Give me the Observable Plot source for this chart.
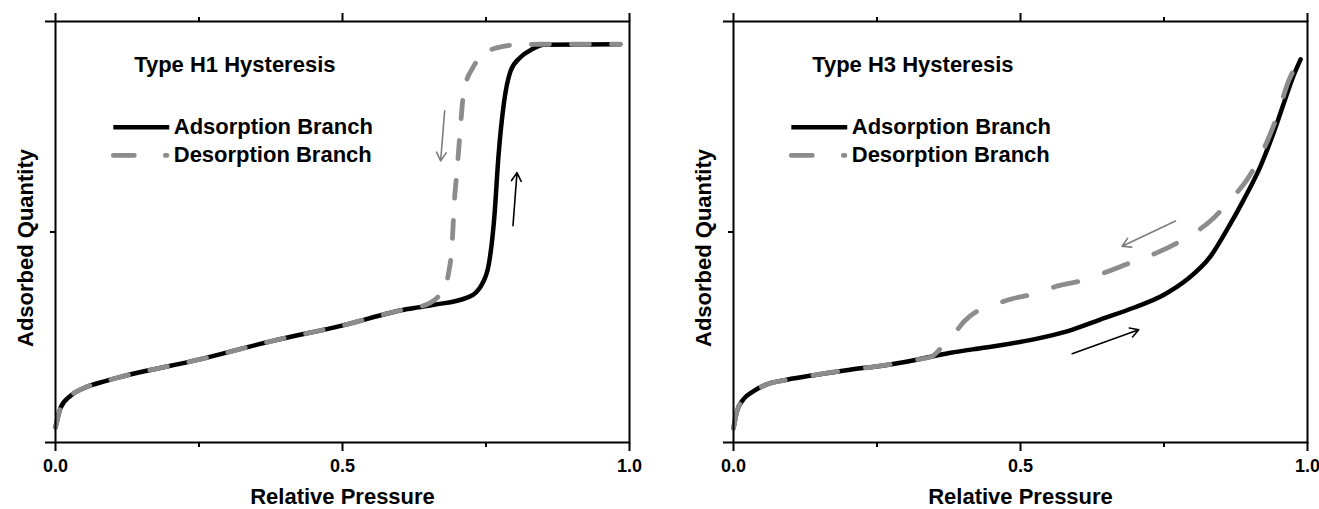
<!DOCTYPE html>
<html><head><meta charset="utf-8">
<script src="https://cdn.jsdelivr.net/npm/d3@7"></script>
<script src="https://cdn.jsdelivr.net/npm/@observablehq/plot@0.6"></script>
<style>
html,body{margin:0;padding:0;background:#fff;}
#wrap{display:flex;width:1319px;height:509px;overflow:hidden;}
#wrap svg{display:block;}
#wrap svg text{font-weight:bold;}
</style></head><body><div id="wrap"></div>
<script>
// ---- Data (relative pressure 0..1, adsorbed quantity in frame fraction 0..1) ----
const h1AdsX = [0, 0.009, 0.026, 0.049, 0.09, 0.253, 0.38, 0.497, 0.613, 0.659, 0.717, 0.733, 0.743, 0.755, 0.764, 0.772, 0.781, 0.793, 0.81, 0.83, 0.851, 0.984];
const h1AdsY = [0.036, 0.083, 0.111, 0.129, 0.147, 0.198, 0.242, 0.277, 0.317, 0.327, 0.344, 0.357, 0.376, 0.424, 0.527, 0.685, 0.804, 0.883, 0.915, 0.934, 0.945, 0.946];
const h1DesX = [0, 0.009, 0.026, 0.049, 0.09, 0.253, 0.38, 0.497, 0.613, 0.63, 0.665, 0.677, 0.685, 0.690, 0.693, 0.695, 0.699, 0.702, 0.706, 0.709, 0.714, 0.727, 0.745, 0.770, 0.807, 0.851, 0.984];
const h1DesY = [0.036, 0.083, 0.111, 0.129, 0.147, 0.198, 0.242, 0.277, 0.317, 0.321, 0.344, 0.366, 0.404, 0.455, 0.522, 0.574, 0.638, 0.688, 0.757, 0.807, 0.847, 0.890, 0.922, 0.938, 0.945, 0.946, 0.946];

const h3AdsX = [0, 0.006, 0.017, 0.035, 0.058, 0.093, 0.145, 0.203, 0.262, 0.320, 0.378, 0.436, 0.465, 0.523, 0.581, 0.639, 0.697, 0.750, 0.790, 0.831, 0.860, 0.889, 0.918, 0.941, 0.959, 0.973, 0.988];
const h3AdsY = [0.034, 0.074, 0.102, 0.122, 0.138, 0.149, 0.161, 0.173, 0.183, 0.197, 0.213, 0.225, 0.231, 0.245, 0.264, 0.292, 0.320, 0.351, 0.387, 0.442, 0.506, 0.577, 0.656, 0.736, 0.807, 0.862, 0.910];
const h3DesX = [0, 0.006, 0.017, 0.035, 0.058, 0.093, 0.145, 0.203, 0.262, 0.320, 0.345, 0.36, 0.377, 0.403, 0.42, 0.443, 0.484, 0.524, 0.565, 0.605, 0.646, 0.686, 0.738, 0.773, 0.808, 0.837, 0.866, 0.895, 0.915, 0.947, 0.968, 0.988];
const h3DesY = [0.034, 0.074, 0.102, 0.122, 0.138, 0.149, 0.161, 0.173, 0.183, 0.197, 0.204, 0.222, 0.245, 0.289, 0.308, 0.321, 0.341, 0.353, 0.372, 0.384, 0.403, 0.424, 0.451, 0.474, 0.502, 0.534, 0.577, 0.625, 0.672, 0.775, 0.862, 0.910];

// direction arrows (annotation endpoints)
const h1ArrowDes = [{x1: 0.678, y1: 0.788, x2: 0.671, y2: 0.669}];
const h1ArrowAds = [{x1: 0.797, y1: 0.515, x2: 0.804, y2: 0.641}];
const h3ArrowDes = [{x1: 0.770, y1: 0.526, x2: 0.677, y2: 0.466}];
const h3ArrowAds = [{x1: 0.590, y1: 0.211, x2: 0.706, y2: 0.268}];

// ticks and labels
const xTicksMajor = [0, 0.5, 1];
const xTicksMinor = [0.25, 0.75];
const yTicksMajor = [0, 1];
const yTicksMinor = [0.5];
const panelTitles = ["Type H1 Hysteresis", "Type H3 Hysteresis"];
const seriesNames = ["Adsorption Branch", "Desorption Branch"];
const xTitle = "Relative Pressure";
const yTitle = "Adsorbed Quantity";

// ---- Layout / style ----
const GRAY = "#8c8c8c";
const FONT = "'Liberation Sans', Arial, Helvetica, sans-serif";
const legendLayout = {titleX: 0.137, titleY: 0.897, lineX1: 0.1016, lineX2: 0.199, dashX2: 0.195, textX: 0.206, rowY: [0.749, 0.682]};

const zip = (xs, ys) => xs.map((x, i) => ({x, y: ys[i]}));
const blank = () => "";

function makePanel({width, marginLeft, marginRight, title, adsX, adsY, desX, desY, arrowDes, arrowAds, dash}) {
  return Plot.plot({
    width, height: 509, marginLeft, marginRight, marginTop: 21, marginBottom: 67,
    x: {domain: [0, 1]},
    y: {domain: [0, 1]},
    style: {fontFamily: FONT, background: "white", color: "black", overflow: "visible"},
    marks: [
      Plot.line(zip(adsX, adsY), {x: "x", y: "y", stroke: "black", strokeWidth: 4.5, curve: "monotone-x", strokeLinecap: "round"}),
      Plot.line(zip(desX, desY), {x: "x", y: "y", stroke: GRAY, strokeWidth: 4.8, strokeDasharray: dash, strokeLinecap: "round", curve: "monotone-x"}),
      Plot.arrow(arrowDes, {x1: "x1", y1: "y1", x2: "x2", y2: "y2", stroke: "#7d7d7d", strokeWidth: 1.6, headLength: 9}),
      Plot.arrow(arrowAds, {x1: "x1", y1: "y1", x2: "x2", y2: "y2", stroke: "black", strokeWidth: 1.6, headLength: 9}),
      Plot.frame({stroke: "black", strokeWidth: 2}),
      Plot.axisX(xTicksMajor, {anchor: "bottom", tickSize: 9, tickPadding: 8, tickFormat: d3.format(".1f"), fontSize: 18, strokeWidth: 2, label: null}),
      Plot.axisX(xTicksMinor, {anchor: "bottom", tickSize: 5, tickFormat: blank, strokeWidth: 2, label: null}),
      Plot.axisX(xTicksMajor, {anchor: "top", tickSize: 9, tickFormat: blank, strokeWidth: 2, label: null}),
      Plot.axisX(xTicksMinor, {anchor: "top", tickSize: 5, tickFormat: blank, strokeWidth: 2, label: null}),
      Plot.axisY(yTicksMajor, {anchor: "left", tickSize: 10, tickFormat: blank, strokeWidth: 2, label: null}),
      Plot.axisY(yTicksMinor, {anchor: "left", tickSize: 5, tickFormat: blank, strokeWidth: 2, label: null}),
      Plot.text([xTitle], {text: d => d, frameAnchor: "bottom", textAnchor: "middle", dy: 61, fontSize: 22, fill: "black"}),
      Plot.text([yTitle], {text: d => d, frameAnchor: "left", textAnchor: "middle", rotate: -90, dx: -30, dy: 16, fontSize: 22, fill: "black"}),
      Plot.text([title], {text: d => d, x: () => legendLayout.titleX, y: () => legendLayout.titleY, textAnchor: "start", fontSize: 22, fill: "black"}),
      Plot.ruleY([legendLayout.rowY[0]], {x1: legendLayout.lineX1, x2: legendLayout.lineX2, stroke: "black", strokeWidth: 4.5}),
      Plot.ruleY([legendLayout.rowY[1]], {x1: legendLayout.lineX1, x2: legendLayout.dashX2, stroke: GRAY, strokeWidth: 4.8, strokeDasharray: "21,31", strokeLinecap: "round"}),
      Plot.text(seriesNames, {text: d => d, x: () => legendLayout.textX, y: (d, i) => legendLayout.rowY[i], textAnchor: "start", fontSize: 22, fill: "black"})
    ]
  });
}

const wrap = document.getElementById("wrap");
wrap.append(makePanel({width: 660, marginLeft: 55, marginRight: 31, title: panelTitles[0],
  adsX: h1AdsX, adsY: h1AdsY, desX: h1DesX, desY: h1DesY, arrowDes: h1ArrowDes, arrowAds: h1ArrowAds, dash: "18,22"}));
wrap.append(makePanel({width: 659, marginLeft: 73, marginRight: 12, title: panelTitles[1],
  adsX: h3AdsX, adsY: h3AdsY, desX: h3DesX, desY: h3DesY, arrowDes: h3ArrowDes, arrowAds: h3ArrowAds, dash: "25,28"}));
</script>
</body></html>
